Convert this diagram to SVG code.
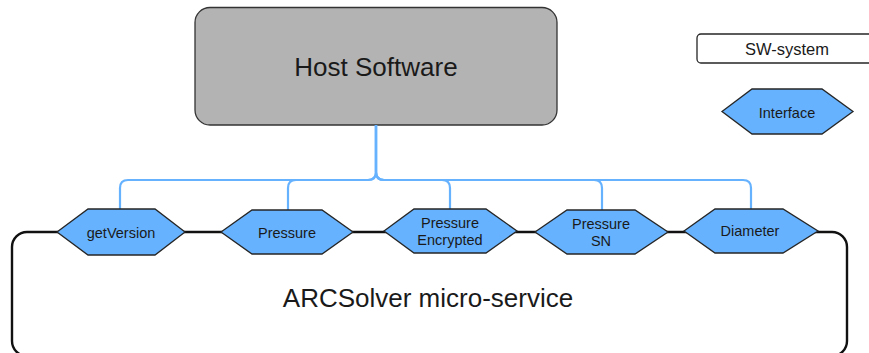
<svg xmlns="http://www.w3.org/2000/svg" width="869" height="353" viewBox="0 0 869 353">
<style>
.hex{fill:#66b2ff;stroke:#262626;stroke-width:1.3}
.hl{font-family:"Liberation Sans",Arial,sans-serif;font-size:14.5px;fill:#1a1a1a;text-anchor:middle}
.big{font-family:"Liberation Sans",Arial,sans-serif;font-size:26px;fill:#1a1a1a;text-anchor:middle}
.conn{fill:none;stroke:#66b2ff;stroke-width:2.2}
</style>
<rect width="869" height="353" fill="#ffffff"/>
<g id="arcsolver">
<rect x="12" y="232" width="835" height="124" rx="15" fill="none" stroke="#111" stroke-width="2.4"/>
<text class="big" x="428" y="307">ARCSolver micro-service</text>
</g>
<g id="host">
<rect x="195" y="7.5" width="362" height="117.5" rx="15" fill="#b3b3b3" stroke="#333" stroke-width="1.3"/>
<text class="big" x="376" y="76">Host Software</text>
</g>
<g id="connectors">
<path class="conn" d="M376,125 V172 Q376,180 368,180 H128 Q120,180 120,188 V209"/>
<path class="conn" d="M376,125 V172 Q376,180 368,180 H296 Q288,180 288,188 V210"/>
<path class="conn" d="M376,125 V172 Q376,180 384,180 H442 Q450,180 450,188 V209"/>
<path class="conn" d="M376,125 V172 Q376,180 384,180 H594 Q602,180 602,188 V211"/>
<path class="conn" d="M376,125 V172 Q376,180 384,180 H743 Q751,180 751,188 V209"/>
</g>
<g id="getVersion">
<polygon class="hex" points="57,232 88,209 155,209 185,232 155,255 88,255"/>
<text class="hl" x="121" y="238">getVersion</text>
</g>
<g id="pressure">
<polygon class="hex" points="221,232 252,210 322,210 353,232 322,254 252,254"/>
<text class="hl" x="287" y="238">Pressure</text>
</g>
<g id="pressureEncrypted">
<polygon class="hex" points="384,231 414,209 486,209 517,231 486,253 414,253"/>
<text class="hl" x="450" y="228">Pressure</text>
<text class="hl" x="450" y="245">Encrypted</text>
</g>
<g id="pressureSN">
<polygon class="hex" points="535,232 567,210 635,210 668,232 635,254 567,254"/>
<text class="hl" x="601" y="229">Pressure</text>
<text class="hl" x="601" y="246">SN</text>
</g>
<g id="diameter">
<polygon class="hex" points="684,231 715,209 783,209 818,231 783,253 715,253"/>
<text class="hl" x="750" y="236">Diameter</text>
</g>
<g id="legend-sw">
<rect x="697" y="34" width="180" height="29" rx="4" fill="#fff" stroke="#262626" stroke-width="1.3"/>
<text x="787" y="55" font-family="'Liberation Sans',Arial,sans-serif" font-size="16.5" fill="#1a1a1a" text-anchor="middle">SW-system</text>
</g>
<g id="legend-interface">
<polygon class="hex" points="722,111.5 752,89 822,89 853,111.5 822,134 752,134"/>
<text class="hl" x="787" y="118">Interface</text>
</g>
</svg>
